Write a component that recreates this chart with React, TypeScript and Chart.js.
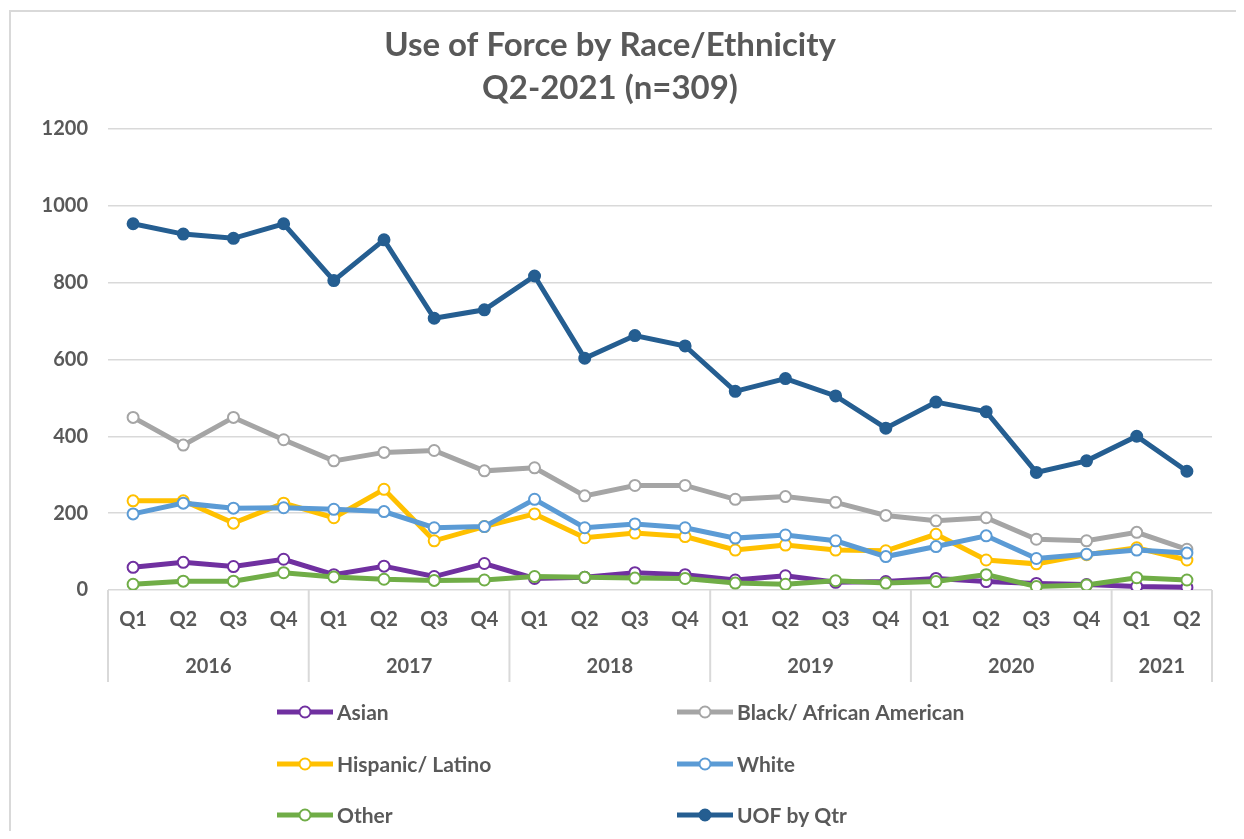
import React, { useEffect, useRef } from "react";
import { Chart, registerables } from "chart.js";

Chart.register(...registerables);

// ---------- DATA ----------
const quarters = [
  "Q1", "Q2", "Q3", "Q4",
  "Q1", "Q2", "Q3", "Q4",
  "Q1", "Q2", "Q3", "Q4",
  "Q1", "Q2", "Q3", "Q4",
  "Q1", "Q2", "Q3", "Q4",
  "Q1", "Q2",
];
const years = ["2016", "2017", "2018", "2019", "2020", "2021"];
const quartersPerYear = [4, 4, 4, 4, 4, 2];

const asian = [59, 72, 61, 80, 40, 62, 35, 69, 30, 33, 45, 40, 26, 37, 20, 22, 30, 22, 17, 14, 9, 7];
const black = [449, 377, 449, 391, 336, 358, 363, 310, 318, 245, 272, 272, 236, 243, 228, 194, 180, 188, 132, 128, 150, 106];
const hispanic = [232, 232, 174, 226, 188, 262, 128, 165, 198, 136, 148, 139, 104, 117, 104, 102, 145, 78, 68, 92, 110, 78];
const white = [198, 226, 213, 214, 210, 204, 162, 165, 236, 162, 172, 162, 135, 143, 128, 87, 113, 141, 82, 93, 104, 96];
const other = [15, 23, 23, 45, 34, 28, 25, 26, 35, 33, 31, 30, 18, 15, 24, 18, 22, 40, 9, 13, 32, 26];
const uofByQtr = [953, 926, 915, 953, 805, 911, 707, 729, 817, 603, 662, 635, 517, 550, 505, 421, 489, 464, 306, 336, 400, 309];

const titleLines = ["Use of Force by Race/Ethnicity", "Q2-2021 (n=309)"];
const yTicks = { min: 0, max: 1200, step: 200 };

const seriesNames = ["Asian", "Black/ African American", "Hispanic/ Latino", "White", "Other", "UOF by Qtr"];
const seriesColors = ["#7030A0", "#A5A5A5", "#FFC000", "#5B9BD5", "#70AD47", "#255E91"];
const seriesValues = [asian, black, hispanic, white, other, uofByQtr];
const filledMarker = [false, false, false, false, false, true];

// ---------- STYLE ----------
const FONT = "Lato, 'Open Sans', sans-serif";
const TEXT = "#595959";
const GRID = "#d9d9d9";
const W = 1236;
const H = 823;

const framePlugin = {
  id: "frame",
  beforeDraw(chart: any) {
    const ctx = chart.ctx;
    ctx.save();
    ctx.fillStyle = "#ffffff";
    ctx.fillRect(0, 0, chart.width, chart.height);
    ctx.strokeStyle = GRID;
    ctx.lineWidth = 2;
    ctx.strokeRect(2, 3, chart.width + 50, chart.height + 50);
    ctx.restore();
  },
};

const yearAxisPlugin = {
  id: "yearAxis",
  afterDraw(chart: any) {
    const x = chart.scales.x;
    const ctx = chart.ctx;
    const n = quarters.length;
    const bounds: number[] = [];
    let idx = 0;
    bounds.push(chart.chartArea.left);
    quartersPerYear.forEach((c) => {
      idx += c;
      if (idx >= n) bounds.push(chart.chartArea.right);
      else bounds.push((x.getPixelForValue(idx - 1) + x.getPixelForValue(idx)) / 2);
    });
    const top = chart.chartArea.bottom;
    const bottom = x.bottom;
    ctx.save();
    ctx.strokeStyle = GRID;
    ctx.lineWidth = 2;
    bounds.forEach((b) => {
      ctx.beginPath();
      ctx.moveTo(b, top);
      ctx.lineTo(b, bottom);
      ctx.stroke();
    });
    ctx.fillStyle = TEXT;
    ctx.font = `bold 20px ${FONT}`;
    ctx.textAlign = "center";
    ctx.textBaseline = "middle";
    years.forEach((yr, i) => {
      ctx.fillText(yr, (bounds[i] + bounds[i + 1]) / 2, bottom - 15);
    });
    ctx.restore();
  },
};

const legendPlugin = {
  id: "twoColLegend",
  afterDraw(chart: any) {
    const ctx = chart.ctx;
    const colX = [269, 669];
    const rowY = [704, 756, 807];
    ctx.save();
    ctx.font = `bold 21px ${FONT}`;
    ctx.textBaseline = "middle";
    ctx.textAlign = "left";
    seriesNames.forEach((name, i) => {
      const x = colX[i % 2];
      const y = rowY[Math.floor(i / 2)];
      ctx.strokeStyle = seriesColors[i];
      ctx.lineWidth = 5;
      ctx.beginPath();
      ctx.moveTo(x, y);
      ctx.lineTo(x + 56, y);
      ctx.stroke();
      ctx.beginPath();
      ctx.arc(x + 28, y, 5.5, 0, Math.PI * 2);
      ctx.fillStyle = filledMarker[i] ? seriesColors[i] : "#ffffff";
      ctx.fill();
      ctx.lineWidth = 2;
      ctx.stroke();
      ctx.fillStyle = TEXT;
      ctx.fillText(name, x + 60, y + 1);
    });
    ctx.restore();
  },
};

export default function App() {
  const ref = useRef<HTMLCanvasElement | null>(null);

  useEffect(() => {
    if (!ref.current) return;
    const datasets = seriesNames.map((name, i) => ({
      label: name,
      data: seriesValues[i],
      borderColor: seriesColors[i],
      backgroundColor: seriesColors[i],
      borderWidth: 5,
      pointRadius: 5.5,
      pointBorderWidth: 2,
      pointBackgroundColor: filledMarker[i] ? seriesColors[i] : "#ffffff",
      pointBorderColor: seriesColors[i],
      tension: 0,
      order: seriesNames.length - i,
    }));

    const chart = new Chart(ref.current, {
      type: "line",
      data: { labels: quarters, datasets },
      options: {
        responsive: false,
        animation: false,
        layout: { padding: { left: 0, right: 32, top: 0, bottom: 149 } },
        plugins: {
          legend: { display: false },
          tooltip: { enabled: false },
          title: {
            display: true,
            text: titleLines,
            color: TEXT,
            font: { family: FONT, size: 33, weight: "bold", lineHeight: 1.3 },
            padding: { top: 16, bottom: 19 },
          },
        },
        scales: {
          x: {
            offset: true,
            grid: { display: false, drawTicks: false },
            border: { display: false },
            ticks: {
              color: TEXT,
              font: { family: FONT, size: 20, weight: "bold" },
              padding: 18,
              autoSkip: false,
              maxRotation: 0,
            },
            afterFit(scale: any) {
              scale.height = 92;
            },
          },
          y: {
            min: yTicks.min,
            max: yTicks.max,
            grid: { color: GRID, lineWidth: 1.5, drawTicks: false },
            border: { display: false },
            ticks: {
              stepSize: yTicks.step,
              color: TEXT,
              font: { family: FONT, size: 20, weight: "bold" },
              padding: 20,
              callback: (v: any) => String(v),
            },
            afterFit(scale: any) {
              scale.width = 100;
            },
          },
        },
      },
      plugins: [framePlugin, yearAxisPlugin, legendPlugin],
    });
    return () => chart.destroy();
  }, []);

  return (
    <div style={{ width: W, height: H }}>
      <canvas ref={ref} width={W} height={H} style={{ display: "block", width: W, height: H }} />
    </div>
  );
}
